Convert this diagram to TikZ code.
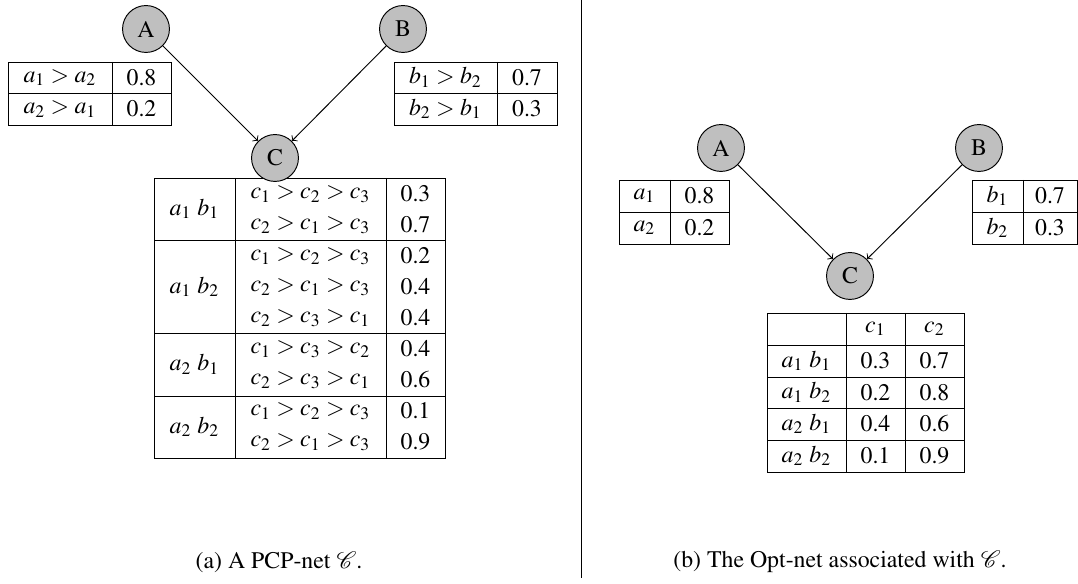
\documentclass[tikz,border=0pt]{standalone}
\usepackage[T1]{fontenc}
\usepackage{mathptmx}
\usepackage{mathrsfs}
\usetikzlibrary{arrows, positioning}

\begin{document}
\begin{tikzpicture}[x=0.42pt, y=-0.42pt,
    var/.style={circle, draw, fill=gray!50, minimum size=19.7pt, inner sep=0pt},
    cpt/.style={line width=0.4pt}]
\useasboundingbox (0,0) rectangle (1078,584);

% ---------- (a) PCP-net ----------
% table of A
\draw[cpt] (8,62) rectangle (171,125);
\draw[cpt] (8,93) -- (171,93) (112,62) -- (112,125);
\node at (60,77.5) {$a_1 > a_2$};
\node at (141.5,77.5) {0.8};
\node at (60,109) {$a_2 > a_1$};
\node at (141.5,109) {0.2};

% table of B
\draw[cpt] (394,62) rectangle (557,125);
\draw[cpt] (394,93) -- (557,93) (497,62) -- (497,125);
\node at (445.5,77.5) {$b_1 > b_2$};
\node at (527,77.5) {0.7};
\node at (445.5,109) {$b_2 > b_1$};
\node at (527,109) {0.3};

% table of C
\draw[cpt] (154,178) rectangle (445,458);
\foreach \y in {240,333,396} \draw[cpt] (154,\y) -- (445,\y);
\foreach \x in {235,386} \draw[cpt] (\x,178) -- (\x,458);
\foreach \y/\lab in {209/{$a_1$ $b_1$}, 287/{$a_1$ $b_2$}, 364.5/{$a_2$ $b_1$}, 427/{$a_2$ $b_2$}}
    \node at (194.5,\y) {\lab};
\foreach \y/\ord/\prob in {194/{c_1 > c_2 > c_3}/0.3, 225/{c_2 > c_1 > c_3}/0.7,
    256/{c_1 > c_2 > c_3}/0.2, 287/{c_2 > c_1 > c_3}/0.4, 318/{c_2 > c_3 > c_1}/0.4,
    349/{c_1 > c_3 > c_2}/0.4, 380/{c_2 > c_3 > c_1}/0.6,
    411/{c_1 > c_2 > c_3}/0.1, 442/{c_2 > c_1 > c_3}/0.9} {
    \node at (310.5,\y) {$\ord$};
    \node at (415.5,\y) {\prob};
}

% variables
\node[var] (pcpA) at (146,29) {A};
\node[var] (pcpB) at (403,29) {B};
\node[var] (pcpC) at (275,158) {C};
\draw[->] (pcpA) -- (pcpC);
\draw[->] (pcpB) -- (pcpC);

\node (capa) at (279,562) {(a) A PCP-net $\mathscr{C}$.};

% separator
\draw[line width=0.4pt] (581,0) -- (581,578);

% ---------- (b) Opt-net ----------
% table of A
\draw[cpt] (619,180) rectangle (729,244);
\draw[cpt] (619,212) -- (729,212) (670,180) -- (670,244);
\node at (644.5,196) {$a_1$};
\node at (699.5,196) {0.8};
\node at (644.5,228) {$a_2$};
\node at (699.5,228) {0.2};

% table of B
\draw[cpt] (972,180) rectangle (1077,244);
\draw[cpt] (972,212) -- (1077,212) (1023,180) -- (1023,244);
\node at (997.5,196) {$b_1$};
\node at (1050,196) {0.7};
\node at (997.5,228) {$b_2$};
\node at (1050,228) {0.3};

% table of C
\draw[cpt] (767,313) rectangle (964,472);
\foreach \y in {345,377,408,440} \draw[cpt] (767,\y) -- (964,\y);
\foreach \x in {846,905} \draw[cpt] (\x,313) -- (\x,472);
\node at (875.5,329) {$c_1$};
\node at (934.5,329) {$c_2$};
\foreach \y/\lab/\pa/\pb in {361/{$a_1$ $b_1$}/0.3/0.7, 392.5/{$a_1$ $b_2$}/0.2/0.8,
    424/{$a_2$ $b_1$}/0.4/0.6, 456/{$a_2$ $b_2$}/0.1/0.9} {
    \node at (806.5,\y) {\lab};
    \node at (875.5,\y) {\pa};
    \node at (934.5,\y) {\pb};
}

% variables
\node[var] (optA) at (721,148) {A};
\node[var] (optB) at (979,148) {B};
\node[var] (optC) at (850,276) {C};
\draw[->] (optA) -- (optC);
\draw[->] (optB) -- (optC);

\node (capb) at (840,562) {(b) The Opt-net associated with $\mathscr{C}$.};

\end{tikzpicture}
\end{document}
